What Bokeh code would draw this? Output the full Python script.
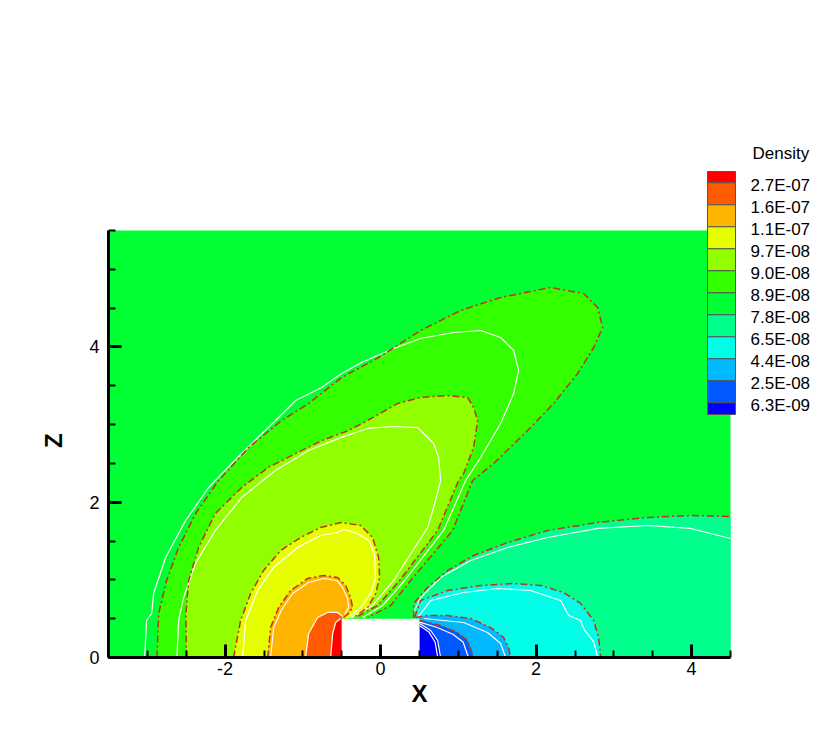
from bokeh.plotting import figure
from bokeh.models import Range1d, SingleIntervalTicker, Title
from bokeh.core.properties import value
from bokeh.embed import file_html
from bokeh.resources import INLINE

# ---------------- data ----------------
X_TITLE = "X"
Z_TITLE = "Z"
LEGEND_TITLE = "Density"
LEVEL_LABELS = ["2.7E-07", "1.6E-07", "1.1E-07", "9.7E-08", "9.0E-08", "8.9E-08",
                "7.8E-08", "6.5E-08", "4.4E-08", "2.5E-08", "6.3E-09"]
BAND_COLORS = ["#ff0000", "#ff5a00", "#ffb400", "#e6ff00", "#91ff00", "#33ff00",
               "#00ff33", "#00ff8c", "#00ffe6", "#00b9ff", "#005aff", "#0000ff"]

X_TICKS = [-2, 0, 2, 4]
X_TICK_LABELS = ["-2", "0", "2", "4"]
Z_TICKS = [0, 2, 4]
Z_TICK_LABELS = ["0", "2", "4"]

DOMAIN_X = [-3.5, 4.5]
DOMAIN_Z = [0.0, 5.5]
BODY_X = [-0.5, 0.5]
BODY_Z = [0.0, 0.5]

# upstream (left) lobes: dash-dot band boundaries
A_X = [-2.877, -2.855, -2.752, -2.598, -2.379, -2.084, -1.698, -1.273, -0.926, -0.502, -0.026,
       0.514, 1.029, 1.543, 2.187, 2.611, 2.791, 2.855, 2.740, 2.534, 2.225, 1.891, 1.453,
       1.183, 0.926, 0.386, 0.129, -0.167]
A_Z = [0.0, 0.567, 0.992, 1.417, 1.855, 2.280, 2.705, 3.053, 3.272, 3.606, 3.864,
       4.212, 4.469, 4.637, 4.766, 4.688, 4.508, 4.250, 3.993, 3.658, 3.272, 2.924, 2.499,
       2.280, 1.636, 0.992, 0.670, 0.515]

B_X = [-2.499, -2.504, -2.469, -2.341, -2.126, -1.784, -1.441, -1.098, -0.755, -0.412, -0.167,
       0.219, 0.514, 0.862, 1.119, 1.196, 1.248, 1.196, 1.068, 1.003, 0.733, 0.244, -0.039, -0.322]
B_Z = [0.0, 0.567, 0.992, 1.417, 1.855, 2.193, 2.451, 2.624, 2.795, 2.924, 3.053,
       3.272, 3.349, 3.375, 3.349, 3.220, 3.053, 2.705, 2.370, 2.280, 1.636, 0.992, 0.670, 0.515]

C_X = [-1.891, -1.801, -1.672, -1.505, -1.286, -1.029, -0.772, -0.514, -0.257, -0.103, -0.026,
       -0.013, -0.064, -0.167, -0.347]
C_Z = [0.0, 0.477, 0.824, 1.121, 1.378, 1.546, 1.674, 1.739, 1.700, 1.546, 1.288,
       1.030, 0.824, 0.644, 0.515]

D_X = [-1.453, -1.415, -1.312, -1.158, -0.939, -0.733, -0.553, -0.450, -0.386, -0.360, -0.412, -0.476]
D_Z = [0.0, 0.386, 0.644, 0.863, 1.018, 1.056, 1.030, 0.927, 0.773, 0.644, 0.567, 0.515]

E_X = [-0.965, -0.926, -0.810, -0.682, -0.553, -0.489]
E_Z = [0.0, 0.309, 0.515, 0.580, 0.580, 0.528]

F_X = [-0.643, -0.617, -0.579, -0.514]
F_Z = [0.0, 0.309, 0.451, 0.502]

# downstream (right) lobes
G_X = [0.424, 0.424, 0.605, 0.862, 1.196, 1.633, 2.148, 2.791, 3.434, 3.987, 4.5]
G_Z = [0.515, 0.696, 0.902, 1.121, 1.314, 1.481, 1.636, 1.739, 1.803, 1.829, 1.816]

H_X = [0.437, 0.514, 0.862, 1.286, 1.711, 2.058, 2.354, 2.572, 2.740, 2.804, 2.830]
H_Z = [0.515, 0.734, 0.863, 0.927, 0.953, 0.927, 0.837, 0.696, 0.477, 0.258, 0.0]

I_X = [0.450, 0.605, 0.862, 1.158, 1.415, 1.582, 1.646, 1.672]
I_Z = [0.515, 0.541, 0.541, 0.502, 0.386, 0.258, 0.129, 0.0]

J_X = [0.502, 0.772, 0.990, 1.119, 1.196]
J_Z = [0.477, 0.412, 0.322, 0.219, 0.0]

K_X = [0.502, 0.643, 0.733, 0.772]
K_Z = [0.438, 0.348, 0.219, 0.0]

# white (solid) contour lines
W1_X = [-3.035, -3.010, -2.945, -2.920, -2.765, -2.508, -2.212, -1.788, -1.351, -1.093, -0.759,
        -0.502, -0.244, 0.167, 0.514, 0.939, 1.286, 1.543, 1.711, 1.775, 1.711, 1.543, 1.286,
        1.093, 0.810, 0.309, 0.026, -0.232]
W1_Z = [0.0, 0.477, 0.567, 0.824, 1.288, 1.765, 2.190, 2.628, 3.053, 3.310, 3.478,
        3.658, 3.800, 3.980, 4.109, 4.186, 4.212, 4.122, 3.954, 3.697, 3.400, 3.014, 2.576,
        2.280, 1.636, 0.992, 0.670, 0.515]

W2_X = [-2.620, -2.598, -2.534, -2.383, -2.126, -1.784, -1.354, -0.926, -0.498, -0.167, 0.167,
        0.476, 0.553, 0.682, 0.746, 0.772, 0.682, 0.605, 0.167, -0.103, -0.386]
W2_Z = [0.0, 0.477, 0.773, 1.211, 1.636, 2.065, 2.409, 2.666, 2.838, 2.950, 2.975,
        2.962, 2.885, 2.756, 2.576, 2.280, 1.932, 1.674, 0.992, 0.670, 0.515]

W3_X = [-1.775, -1.736, -1.582, -1.376, -1.068, -0.772, -0.553, -0.476, -0.296, -0.154, -0.077,
        -0.064, -0.129, -0.257, -0.386]
W3_Z = [0.0, 0.477, 0.863, 1.159, 1.417, 1.571, 1.610, 1.649, 1.597, 1.507, 1.340,
        1.030, 0.824, 0.644, 0.541]

W4_X = [-1.415, -1.376, -1.273, -1.132, -0.926, -0.733, -0.566, -0.489, -0.424, -0.412, -0.463]
W4_Z = [0.0, 0.386, 0.618, 0.824, 0.966, 1.018, 0.992, 0.902, 0.760, 0.644, 0.553]

W5_X = [0.412, 0.514, 0.772, 1.158, 1.633, 2.148, 2.791, 3.434, 3.987, 4.5]
W5_Z = [0.554, 0.773, 1.030, 1.249, 1.417, 1.546, 1.662, 1.700, 1.662, 1.533]

W6_X = [0.476, 0.643, 1.068, 1.505, 1.929, 2.315, 2.418, 2.572, 2.624, 2.740, 2.791]
W6_Z = [0.515, 0.734, 0.837, 0.889, 0.863, 0.734, 0.541, 0.477, 0.348, 0.206, 0.0]

W7_X = [0.553, 1.068, 1.376, 1.543, 1.608]
W7_Z = [0.502, 0.451, 0.322, 0.180, 0.0]

W8_X = [0.502, 0.720, 0.930, 1.060, 1.130]
W8_Z = [0.455, 0.390, 0.300, 0.200, 0.0]

W9_X = [0.502, 0.620, 0.700, 0.735]
W9_Z = [0.410, 0.330, 0.200, 0.0]

# ---------------- layout ----------------
SX = 77.75      # px per unit x
SZ = 77.64      # px per unit z
FRAME_W = 714
FRAME_H = 649
BORDER_L = 108
BORDER_T = 8
BORDER_B = 71
X_START = DOMAIN_X[0]
X_END = X_START + FRAME_W / SX
Z_END = FRAME_H / SZ
PAGE_LEFT = BORDER_L             # screen px of x = X_START
PAGE_BOTTOM = BORDER_T + FRAME_H  # screen px of z = 0


def px2x(px):
    return X_START + (px - PAGE_LEFT) / SX


def px2z(py):
    return (PAGE_BOTTOM - py) / SZ


p = figure(x_range=Range1d(X_START, X_END), y_range=Range1d(0, Z_END),
           frame_width=FRAME_W, frame_height=FRAME_H,
           min_border_left=BORDER_L, min_border_right=0, min_border_top=BORDER_T,
           min_border_bottom=BORDER_B,
           output_backend="svg", toolbar_location=None)
p.xgrid.visible = False
p.ygrid.visible = False
p.outline_line_color = None
p.background_fill_color = "white"
p.border_fill_color = "white"

# background band
p.quad(left=[DOMAIN_X[0]], right=[DOMAIN_X[1]], bottom=[DOMAIN_Z[0]], top=[DOMAIN_Z[1]],
       fill_color=BAND_COLORS[6], line_color=None)

left_close_x = [BODY_X[0], BODY_X[0]]
left_close_z = [BODY_Z[1], BODY_Z[0]]
right_close_x = [BODY_X[1], BODY_X[1]]
right_close_z = [BODY_Z[0], BODY_Z[1]]

left_regions = [(A_X, A_Z, 5), (B_X, B_Z, 4), (C_X, C_Z, 3), (D_X, D_Z, 2), (E_X, E_Z, 1), (F_X, F_Z, 0)]
for xs, zs, ci in left_regions:
    p.patch(xs + left_close_x, zs + left_close_z, fill_color=BAND_COLORS[ci], line_color=None)

right_regions = [(G_X, G_Z, 7), (H_X, H_Z, 8), (I_X, I_Z, 9), (J_X, J_Z, 10), (K_X, K_Z, 11)]
for xs, zs, ci in right_regions:
    ex = []
    ez = []
    if zs[-1] > 0:
        ex = [DOMAIN_X[1]]
        ez = [DOMAIN_Z[0]]
    p.patch(xs + ex + right_close_x, zs + ez + right_close_z, fill_color=BAND_COLORS[ci], line_color=None)

# body
p.quad(left=[BODY_X[0]], right=[BODY_X[1]], bottom=[BODY_Z[0]], top=[BODY_Z[1]],
       fill_color="white", line_color=None)

# white contour lines
for xs, zs in [(W1_X, W1_Z), (W2_X, W2_Z), (W3_X, W3_Z), (W4_X, W4_Z), (E_X, E_Z), (F_X, F_Z),
               (W5_X, W5_Z), (W6_X, W6_Z), (W7_X, W7_Z), (W8_X, W8_Z), (W9_X, W9_Z), (K_X, K_Z)]:
    p.line(xs, zs, line_color="white", line_width=1.2)

# dash-dot band boundaries
for xs, zs in [(A_X, A_Z), (B_X, B_Z), (C_X, C_Z), (D_X, D_Z), (G_X, G_Z), (H_X, H_Z), (I_X, I_Z), (J_X, J_Z)]:
    p.line(xs, zs, line_color="#c0321e", line_width=1.5, line_dash="7 3 2 3")

# axes
for ax, bnds, ticks, labels in [(p.xaxis, DOMAIN_X, X_TICKS, X_TICK_LABELS),
                                (p.yaxis, DOMAIN_Z, Z_TICKS, Z_TICK_LABELS)]:
    ax.bounds = (bnds[0], bnds[1])
    ax.ticker = SingleIntervalTicker(interval=2, num_minor_ticks=4)
    ax.major_label_overrides = {t: l for t, l in zip(ticks, labels)}
    ax.axis_line_width = 3
    ax.axis_line_color = "black"
    ax.major_tick_in = 13
    ax.major_tick_out = 0
    ax.minor_tick_in = 7
    ax.minor_tick_out = 0
    ax.major_tick_line_width = 3
    ax.minor_tick_line_width = 2
    ax.major_label_text_font = "Liberation Sans"
    ax.major_label_text_font_size = "18px"
    ax.major_label_text_color = "black"
p.xaxis.major_label_standoff = 4
p.yaxis.major_label_standoff = 9

# axis titles, centred on the data domain (frame is larger than the domain)
TITLE_HALF = 8   # half glyph width of the bold 24px title letters
dom_cx = PAGE_LEFT + (DOMAIN_X[1] - DOMAIN_X[0]) * SX / 2
dom_cy = PAGE_BOTTOM - (DOMAIN_Z[1] - DOMAIN_Z[0]) * SZ / 2
p.add_layout(Title(text=X_TITLE, align="left", offset=dom_cx - TITLE_HALF - PAGE_LEFT, standoff=0,
                   text_font="Liberation Sans", text_font_size="24px",
                   text_font_style="bold", text_color="black"), "below")
p.add_layout(Title(text=Z_TITLE, align="left", offset=PAGE_BOTTOM - dom_cy - TITLE_HALF + 4, standoff=40,
                   text_font="Liberation Sans", text_font_size="24px",
                   text_font_style="bold", text_color="black"), "left")

# legend (colour boxes + labels), positioned in screen pixels
LEG_L, LEG_R = 707, 735
LEG_TOP, LEG_BOT = 171, 414
first_b = 182.3
step = 22.0
edges = [LEG_TOP] + [first_b + step * k for k in range(len(LEVEL_LABELS))] + [LEG_BOT]
p.quad(left=[px2x(LEG_L)] * len(BAND_COLORS), right=[px2x(LEG_R)] * len(BAND_COLORS),
       top=[px2z(edges[i]) for i in range(len(BAND_COLORS))],
       bottom=[px2z(edges[i + 1]) for i in range(len(BAND_COLORS))],
       fill_color=BAND_COLORS, line_color="#555555", line_width=1)
p.text(x=[px2x(750)] * len(LEVEL_LABELS),
       y=[px2z(first_b + step * k + 3) for k in range(len(LEVEL_LABELS))],
       text=LEVEL_LABELS, text_font=value("Liberation Sans"), text_font_size="17px",
       text_baseline="alphabetic", text_align="left", text_color="black")
p.text(x=[px2x(752)], y=[px2z(153)], text=[LEGEND_TITLE], text_font=value("Liberation Sans"),
       text_font_size="17px", text_baseline="alphabetic", text_align="left", text_color="black")

open("out.html", "w").write(file_html(p, INLINE))
